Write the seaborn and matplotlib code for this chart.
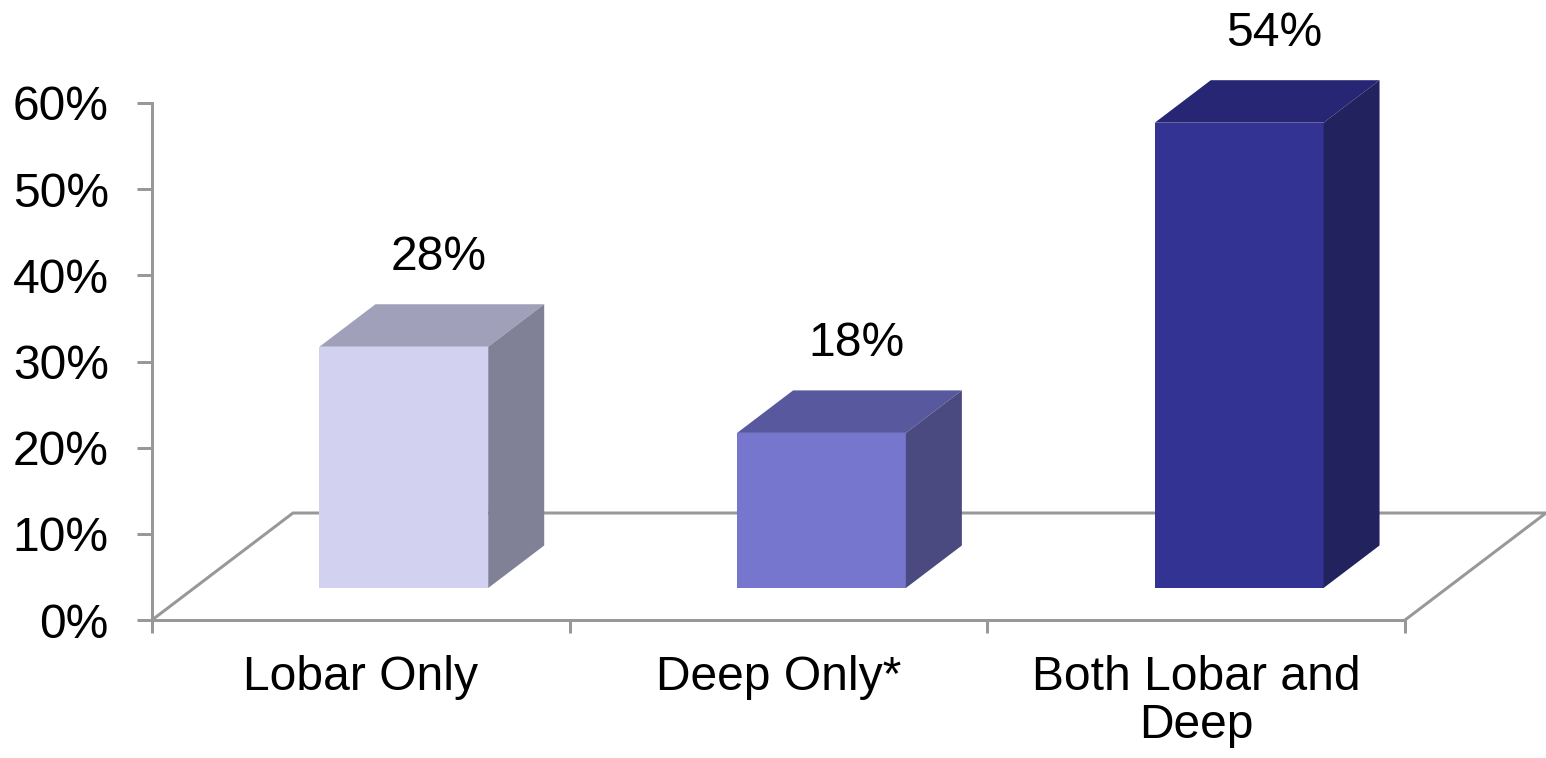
import matplotlib
matplotlib.use("Agg")
import matplotlib.pyplot as plt
import matplotlib.transforms as mtransforms
from matplotlib.patches import Polygon
from matplotlib.ticker import FixedLocator, FuncFormatter
import pandas as pd
import seaborn as sns

# Chart data
categories = ["Lobar Only", "Deep Only*", "Both Lobar and\nDeep"]
percentages = [28, 18, 54]
y_ticks = [0, 10, 20, 30, 40, 50, 60]

# Face colours for the pseudo-3D boxes (front, top, right side)
front_colors = ["#D2D2F0", "#7676CE", "#333393"]
top_colors = ["#A0A0BA", "#58589E", "#262674"]
side_colors = ["#808096", "#4A4A80", "#22225E"]
axis_grey = "#989898"
FONT_SIZE = 34.6

sns.set_theme(style="white")
plt.rcParams["font.family"] = ["Liberation Sans", "DejaVu Sans"]

DPI = 100
W, H = 1546, 758
fig = plt.figure(figsize=(W / DPI, H / DPI), dpi=DPI)
ax = fig.add_axes([152 / W, 138 / H, 1253 / W, 517 / H])

df = pd.DataFrame({"category": categories, "percent": percentages})
sns.barplot(
    data=df, x="category", y="percent", hue="category",
    palette=front_colors, legend=False, width=0.404, saturation=1,
    errorbar=None, linewidth=0, ax=ax, zorder=3,
)

ax.set_xlim(-0.5, 2.5)
ax.set_ylim(0, 60)
ax.set_xlabel("")
ax.set_ylabel("")

# pixel <-> data scale of the axes
px_x = ax.bbox.width / 3.0
px_y = ax.bbox.height / 60.0

# Boxes sit slightly back on the floor: shift the front faces up/right
shift = mtransforms.ScaledTranslation(43 / DPI, 32 / DPI, fig.dpi_scale_trans)
bar_trans = ax.transData + shift
depth_x = 56 / px_x
depth_y = 42.5 / px_y

bars = sorted(ax.patches, key=lambda p: p.get_x())
for patch, top_c, side_c in zip(bars, top_colors, side_colors):
    x0, w, h = patch.get_x(), patch.get_width(), patch.get_height()
    patch.set_transform(bar_trans)
    patch.set_clip_on(False)
    top = Polygon(
        [(x0, h), (x0 + depth_x, h + depth_y), (x0 + w + depth_x, h + depth_y), (x0 + w, h)],
        closed=True, facecolor=top_c, edgecolor="none",
        transform=bar_trans, clip_on=False, zorder=3,
    )
    side = Polygon(
        [(x0 + w, 0), (x0 + w + depth_x, depth_y), (x0 + w + depth_x, h + depth_y), (x0 + w, h)],
        closed=True, facecolor=side_c, edgecolor="none",
        transform=bar_trans, clip_on=False, zorder=3,
    )
    ax.add_patch(top)
    ax.add_patch(side)

# Floor outline (front edge is the x-axis spine)
floor_x = 141 / px_x
floor_y = 107 / px_y
ax.plot(
    [-0.5, -0.5 + floor_x, 2.5 + floor_x, 2.5],
    [0, floor_y, floor_y, 0],
    color=axis_grey, lw=2.16, clip_on=False, zorder=1,
    solid_joinstyle="miter",
)

# Value labels above each box
for i, v in enumerate(percentages):
    ax.annotate(
        f"{v}%", xy=(i, v), xytext=(78 / DPI * 72, 109 / DPI * 72),
        textcoords="offset points", ha="center", va="baseline",
        fontsize=FONT_SIZE, color="black", annotation_clip=False,
    )

# Axes styling
for side_name in ("top", "right"):
    ax.spines[side_name].set_visible(False)
for side_name in ("left", "bottom"):
    ax.spines[side_name].set_color(axis_grey)
    ax.spines[side_name].set_linewidth(2.16)

ax.yaxis.set_major_locator(FixedLocator(y_ticks))
ax.yaxis.set_major_formatter(FuncFormatter(lambda v, p: f"{v:.0f}%"))
ax.tick_params(axis="y", which="major", left=True, direction="out",
               length=10.8, width=2.16, color=axis_grey, pad=20.2,
               labelsize=FONT_SIZE, labelcolor="black")

ax.set_xticks([-0.5, 0.5, 1.5, 2.5])
ax.set_xticklabels([])
ax.set_xticks([0, 1, 2], minor=True)
ax.set_xticklabels(categories, minor=True)
ax.tick_params(axis="x", which="major", bottom=True, direction="out",
               length=9.4, width=2.16, color=axis_grey)
ax.tick_params(axis="x", which="minor", bottom=True, length=0, pad=25,
               labelsize=FONT_SIZE, labelcolor="black")
for lbl in ax.get_xticklabels(minor=True):
    lbl.set_linespacing(1.09)

fig.savefig("out.png", dpi=DPI, facecolor="white")
